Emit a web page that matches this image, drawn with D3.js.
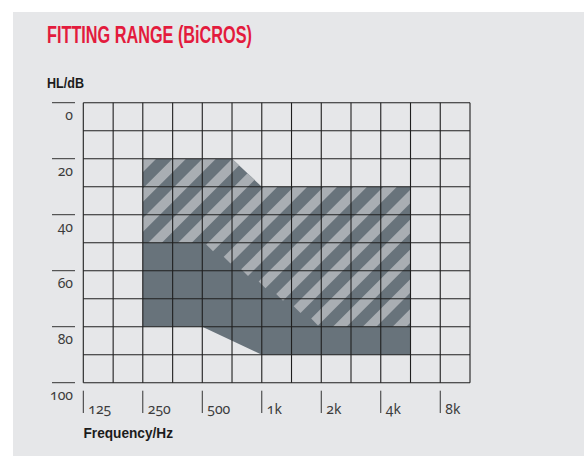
<!DOCTYPE html>
<html>
<head>
<meta charset="utf-8">
<script src="https://cdn.jsdelivr.net/npm/d3@7"></script>
<style>
  html, body { margin: 0; padding: 0; background: #ffffff; }
  svg { display: block; }
</style>
</head>
<body>
<svg id="chart" width="584" height="456"></svg>
<script>
// ---- data ----
const gridFreqs = [125, 177, 250, 354, 500, 707, 1000, 1414, 2000, 2828, 4000, 5657, 8000, 11314];
const gridLevels = [0, 10, 20, 30, 40, 50, 60, 70, 80, 90, 100];
const xTickFreqs = [125, 250, 500, 1000, 2000, 4000, 8000];
const xTickLabels = ["125", "250", "500", "1k", "2k", "4k", "8k"];
const yTickLevels = [0, 20, 40, 60, 80, 100];
const yTickLabels = ["0", "20", "40", "60", "80", "100"];
// full fitting range (dark area)
const rangeFreq = [250, 707, 1000, 5657, 5657, 1000, 500, 250];
const rangeHL   = [20, 20, 30, 30, 90, 90, 80, 80];
// hatched (lighter striped) portion: upper edge follows the range,
// lower edge is flat at 50 dB, slopes from 500 Hz/50 dB to 2 kHz/80 dB, then flat at 80 dB
const hatchFreq = [250, 707, 1000, 5657, 5657, 2000, 500, 250];
const hatchHL   = [20, 20, 30, 30, 80, 80, 50, 50];

const titleText = "FITTING RANGE (BiCROS)";
const yTitle = "HL/dB";
const xTitle = "Frequency/Hz";

// ---- drawing ----
const svg = d3.select("#chart");
svg.append("rect").attr("x", 13).attr("y", 12).attr("width", 584 - 13).attr("height", 456 - 12)
  .attr("fill", "#e6e7e9");

const x = d3.scaleLog().base(2).domain([125, 11314]).range([83.3, 470]);
const y = d3.scaleLinear().domain([0, 100]).range([102.7, 382.7]);

const line = d3.line().x(d => x(d[0])).y(d => y(d[1]));
const rangePts = rangeFreq.map((f, i) => [f, rangeHL[i]]);

svg.append("path").attr("d", line(rangePts) + "Z").attr("fill", "#68737b");

// clip: top/left/right edges and the flat parts of the hatch's lower edge;
// the sloping part is made by the stripes' own square ends.
const P = hatchFreq.map((f, i) => [x(f), y(hatchHL[i])]);
const sx0 = P[6][0], sy0 = P[6][1];   // 500 Hz, 50 dB
const sx1 = P[5][0], sy1 = P[5][1];   // 2 kHz, 80 dB
const band = 5;
const clipPts = [P[0], P[1], P[2], P[3], P[4], P[5],
  [sx1, sy1 + band], [sx0, sy0 + band], P[6], P[7]];
const defs = svg.append("defs");
defs.append("clipPath").attr("id", "hatchClip")
  .append("path").attr("d", d3.line()(clipPts) + "Z");

const hatchG = svg.append("g").attr("clip-path", "url(#hatchClip)");
const period = x(354) - x(250);
const c0 = x(250) + 6.7 + y(20);
const stripes = d3.range(-2, 18).map(k => c0 + k * period);
const yTop = y(10), yFar = y(96);
const m = (sy1 - sy0) / (sx1 - sx0);
function stripeEnd(c) {
  // intersection of x + y = c with the sloping lower edge
  const xi = (c - sy0 + m * sx0) / (1 + m);
  if (xi >= sx0 && xi <= sx1) return [xi, c - xi];
  if (xi > sx1) return [c - (sy1 + 8), sy1 + 8];
  return [c - yFar, yFar];
}
hatchG.selectAll("line").data(stripes).join("line")
  .attr("x1", c => c - yTop).attr("y1", yTop)
  .attr("x2", c => stripeEnd(c)[0]).attr("y2", c => stripeEnd(c)[1])
  .attr("stroke", "#a9aeb3").attr("stroke-width", 9.6).attr("stroke-linecap", "butt");

// grid
const grid = svg.append("g").attr("stroke", "#1f1f1f").attr("stroke-width", 1.1);
grid.selectAll("line.h").data(gridLevels).join("line").attr("class", "h")
  .attr("x1", x(125)).attr("x2", x(11314))
  .attr("y1", d => y(d)).attr("y2", d => y(d));
grid.selectAll("line.v").data(gridFreqs).join("line").attr("class", "v")
  .attr("x1", d => x(d)).attr("x2", d => x(d))
  .attr("y1", y(0)).attr("y2", y(100));

// y axis ticks
const numFont = "'Noto Sans', 'Open Sans', sans-serif";
const yAx = svg.append("g");
yAx.selectAll("line").data(yTickLevels).join("line")
  .attr("x1", 52).attr("x2", 75)
  .attr("y1", d => y(d)).attr("y2", d => y(d))
  .attr("stroke", "#333").attr("stroke-width", 1);
yAx.selectAll("text").data(yTickLevels).join("text")
  .attr("x", 73).attr("y", d => y(d) + 16.8)
  .attr("text-anchor", "end")
  .attr("font-family", numFont).attr("font-size", 14)
  .style("font-feature-settings", "'onum' 1")
  .attr("fill", "#3c3c3c")
  .text((d, i) => yTickLabels[i]);

// x axis ticks
const xAx = svg.append("g");
xAx.selectAll("line").data(xTickFreqs).join("line")
  .attr("x1", d => x(d)).attr("x2", d => x(d))
  .attr("y1", 390.7).attr("y2", 413)
  .attr("stroke", "#333").attr("stroke-width", 1);
xAx.selectAll("text").data(xTickFreqs).join("text")
  .attr("x", d => x(d) + 5).attr("y", 414)
  .attr("font-family", numFont).attr("font-size", 14)
  .style("font-feature-settings", "'onum' 1")
  .attr("fill", "#3c3c3c")
  .text((d, i) => xTickLabels[i]);

// titles
svg.append("text").attr("x", 47).attr("y", 42.7)
  .attr("font-family", "'Liberation Sans Narrow', 'Liberation Sans', sans-serif")
  .attr("font-weight", "bold").attr("font-size", 23)
  .attr("textLength", 205).attr("lengthAdjust", "spacingAndGlyphs")
  .attr("fill", "#e31b3d").text(titleText);

svg.append("text").attr("x", 47).attr("y", 88.3)
  .attr("font-family", "'Liberation Sans Narrow', 'Liberation Sans', sans-serif")
  .attr("font-weight", "bold").attr("font-size", 15.5)
  .attr("textLength", 37).attr("lengthAdjust", "spacingAndGlyphs")
  .attr("fill", "#1c1c1c").text(yTitle);

svg.append("text").attr("x", 83.5).attr("y", 438)
  .attr("font-family", "'Liberation Sans Narrow', 'Liberation Sans', sans-serif")
  .attr("font-weight", "bold").attr("font-size", 15.5)
  .attr("textLength", 89.5).attr("lengthAdjust", "spacingAndGlyphs")
  .attr("fill", "#1c1c1c").text(xTitle);
</script>
</body>
</html>
